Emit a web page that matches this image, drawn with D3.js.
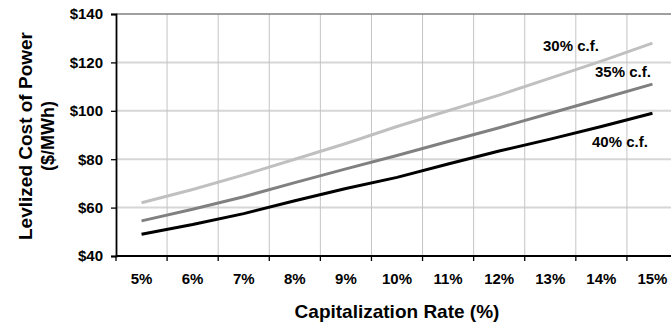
<!DOCTYPE html>
<html>
<head>
<meta charset="utf-8">
<script src="https://cdn.jsdelivr.net/npm/d3@7"></script>
<style>
  html, body { margin: 0; padding: 0; background: #fff; overflow: hidden; }
  svg { display: block; font-family: "Liberation Sans", Arial, sans-serif; font-weight: bold; }
</style>
</head>
<body>
<svg id="chart" width="671" height="328"></svg>
<script>
const categories = ["5%", "6%", "7%", "8%", "9%", "10%", "11%", "12%", "13%", "14%", "15%"];
const cf30 = [62, 67.5, 73.5, 80, 86.5, 93.5, 100, 106.5, 113.5, 120.5, 128];
const cf35 = [54.5, 59.3, 64.5, 70.3, 76, 81.5, 87.3, 93, 99, 105, 111];
const cf40 = [49, 53, 57.5, 62.8, 67.9, 72.5, 78, 83.4, 88.3, 93.5, 99];
const seriesNames = ["30% c.f.", "35% c.f.", "40% c.f."];
const yTicks = [40, 60, 80, 100, 120, 140];
const yTickLabels = ["$40", "$60", "$80", "$100", "$120", "$140"];
const xTitle = "Capitalization Rate (%)";
const yTitle = ["Levlized Cost of Power", "($/MWh)"];

(function () {
const svg = d3.select("#chart");
const pLeft = 116, pRight = 678, pTop = 14, pBottom = 256;

const x = d3.scaleBand().domain(categories).range([pLeft, pRight]).padding(0);
const y = d3.scaleLinear().domain([40, 140]).range([pBottom, pTop]);

const boundaries = categories.map(c => x(c)).concat([x.range()[1]]);

// horizontal gridlines
svg.append("g").selectAll("line").data(yTicks.filter(v => v > 40 && v < 140)).join("line")
  .attr("x1", pLeft).attr("x2", pRight)
  .attr("y1", d => y(d)).attr("y2", d => y(d))
  .attr("stroke", "#d6d6d6").attr("stroke-width", 2);

// vertical gridlines
svg.append("g").selectAll("line").data(boundaries.slice(1)).join("line")
  .attr("x1", d => d).attr("x2", d => d)
  .attr("y1", pTop).attr("y2", pBottom)
  .attr("stroke", "#c4c4c4").attr("stroke-width", 1);

// top border
svg.append("line").attr("x1", pLeft).attr("x2", pRight)
  .attr("y1", y(140)).attr("y2", y(140))
  .attr("stroke", "#808080").attr("stroke-width", 1.5);

// y axis
const yAxis = d3.axisLeft(y).tickValues(yTicks)
  .tickFormat((d, i) => yTickLabels[i]).tickSize(5).tickPadding(8);
const gy = svg.append("g").attr("transform", `translate(${pLeft},0)`).call(yAxis);
gy.select(".domain").attr("stroke", "#000").attr("stroke-width", 1.8);
gy.selectAll(".tick line").attr("stroke", "#000").attr("stroke-width", 1.3);
gy.selectAll(".tick text").attr("font-size", 15).attr("font-weight", "bold")
  .attr("font-family", "'Liberation Sans', Arial, sans-serif").attr("fill", "#000");

// x axis
svg.append("line").attr("x1", pLeft).attr("x2", pRight)
  .attr("y1", pBottom).attr("y2", pBottom)
  .attr("stroke", "#000").attr("stroke-width", 1.8);
svg.append("g").selectAll("line").data(boundaries).join("line")
  .attr("x1", d => d).attr("x2", d => d)
  .attr("y1", pBottom).attr("y2", pBottom + 5)
  .attr("stroke", "#000").attr("stroke-width", 1.3);
svg.append("g").selectAll("text").data(categories).join("text")
  .attr("x", d => x(d) + x.bandwidth() / 2)
  .attr("y", 284)
  .attr("text-anchor", "middle")
  .attr("font-size", 15)
  .text(d => d);

// lines
const line = d3.line()
  .x((d, i) => x(categories[i]) + x.bandwidth() / 2)
  .y(d => y(d));
const colors = ["#c0c0c0", "#808080", "#000000"];
[cf30, cf35, cf40].forEach((s, i) => {
  svg.append("path").datum(s)
    .attr("d", line)
    .attr("fill", "none")
    .attr("stroke", colors[i])
    .attr("stroke-width", 3)
    .attr("stroke-linejoin", "round");
});

// series labels
const labelPos = [[543, 51], [595, 77], [592, 147]];
seriesNames.forEach((n, i) => {
  svg.append("text").attr("x", labelPos[i][0]).attr("y", labelPos[i][1])
    .attr("font-size", 15).text(n);
});

// x title
svg.append("text").attr("x", (pLeft + pRight) / 2).attr("y", 318)
  .attr("text-anchor", "middle").attr("font-size", 19).text(xTitle);

// y title
const yt = svg.append("text")
  .attr("transform", `translate(0, ${(pTop + pBottom) / 2 + 1}) rotate(-90)`)
  .attr("text-anchor", "middle").attr("font-size", 19);
yt.append("tspan").attr("x", 0).attr("y", 32).text(yTitle[0]);
yt.append("tspan").attr("x", 0).attr("y", 54).attr("font-size", 18).text(yTitle[1]);
})();
</script>
</body>
</html>
